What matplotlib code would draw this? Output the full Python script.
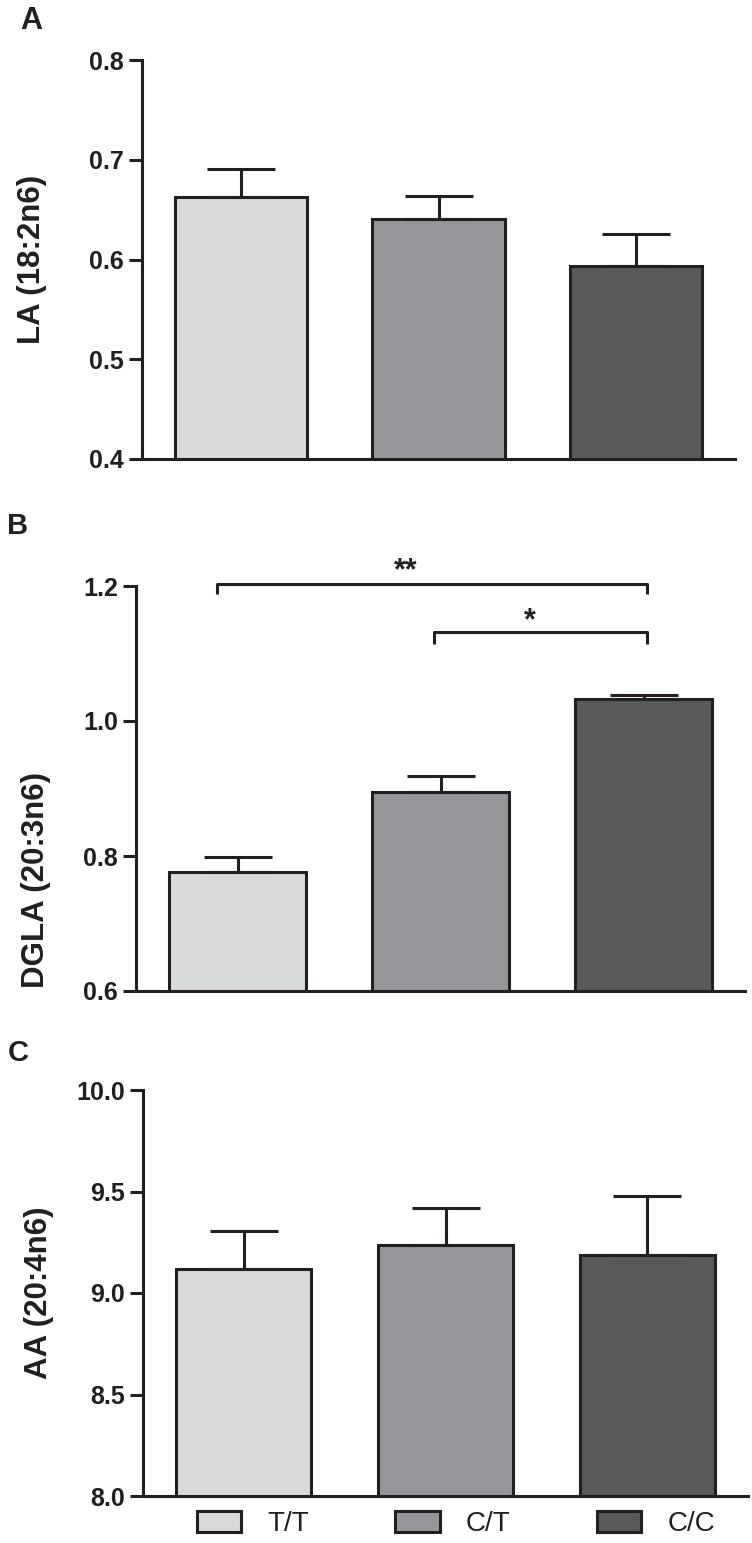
import numpy as np
import matplotlib
matplotlib.use("Agg")
import matplotlib.pyplot as plt

plt.rcParams['font.family'] = ['Liberation Sans', 'DejaVu Sans']

# 数据
genotypes = ['T/T', 'C/T', 'C/C']
bar_colors = ['#d8d9da', '#959699', '#58595b']

la_mean = [0.663, 0.641, 0.593]
la_sem = [0.028, 0.023, 0.033]

dgla_mean = [0.777, 0.895, 1.032]
dgla_sem = [0.021, 0.023, 0.006]

aa_mean = [9.120, 9.237, 9.187]
aa_sem = [0.187, 0.183, 0.293]

ink = '#231f20'
lw = 2.2
W, H = 752, 1543

fig = plt.figure(figsize=(W / 100, H / 100), dpi=100)


def make_axes(left, right, top, bottom):
    # 像素位置转换为figure坐标
    return fig.add_axes([left / W, 1 - bottom / H, (right - left) / W, (bottom - top) / H])


def draw_panel(ax, means, sems, ylim, step, ylabel):
    x = np.arange(len(means))
    bars = ax.bar(x, means, width=0.67, color=bar_colors, edgecolor=ink, linewidth=lw,
                  yerr=[np.zeros(len(sems)), sems], capsize=24.5,
                  error_kw=dict(elinewidth=lw, capthick=lw, ecolor=ink), zorder=2)
    ax.set_xlim(-0.5, 2.5)
    ax.set_ylim(*ylim)
    ax.set_yticks(np.arange(ylim[0], ylim[1] + step / 2, step))
    ax.yaxis.set_major_formatter(matplotlib.ticker.FormatStrFormatter('%.1f'))
    ax.set_xticks([])
    for s in ['top', 'right']:
        ax.spines[s].set_visible(False)
    for s in ['left', 'bottom']:
        ax.spines[s].set_linewidth(lw)
        ax.spines[s].set_color(ink)
    ax.tick_params(axis='y', length=9.5, width=lw, color=ink, pad=3.5,
                   labelsize=18)
    for t in ax.get_yticklabels():
        t.set_fontweight('bold')
        t.set_color(ink)
    ax.set_ylabel(ylabel, fontsize=22.5, fontweight='bold', color=ink)
    return bars


# A
axA = make_axes(142, 735, 60, 459)
draw_panel(axA, la_mean, la_sem, (0.4, 0.8), 0.1, 'LA (18:2n6)')
axA.yaxis.set_label_coords((47 - 142) / (735 - 142), 0.5)

# B
axB = make_axes(136, 745, 586, 991)
draw_panel(axB, dgla_mean, dgla_sem, (0.6, 1.2), 0.2, 'DGLA (20:3n6)')
axB.yaxis.set_label_coords((51 - 136) / (745 - 136), (991 - 880) / (991 - 586))
# 显著性标记
axB.plot([-0.1, -0.1, 2.015, 2.015], [1.188, 1.203, 1.203, 1.188], color=ink, lw=lw,
         clip_on=False, solid_capstyle='butt')
axB.plot([0.97, 0.97, 2.015, 2.015], [1.114, 1.132, 1.132, 1.114], color=ink, lw=lw,
         clip_on=False, solid_capstyle='butt')
axB.text(0.83, 1.222, '**', ha='center', va='center', fontsize=22, fontweight='bold', color=ink)
axB.text(1.44, 1.148, '*', ha='center', va='center', fontsize=22, fontweight='bold', color=ink)

# C
axC = make_axes(143, 748, 1090, 1496)
barsC = draw_panel(axC, aa_mean, aa_sem, (8.0, 10.0), 0.5, 'AA (20:4n6)')
axC.yaxis.set_label_coords((54 - 143) / (748 - 143), 0.5)

# 面板字母
fig.text(20 / W, 1 - 21 / H, 'A', fontsize=22, fontweight='bold', color=ink, va='center')
fig.text(7 / W, 1 - 526 / H, 'B', fontsize=21, fontweight='bold', color=ink, va='center')
fig.text(8 / W, 1 - 1053 / H, 'C', fontsize=21, fontweight='bold', color=ink, va='center')

# 图例
fig.legend(barsC.patches, genotypes, loc='center', bbox_to_anchor=(456 / W, 1 - 1524 / H),
           ncol=3, frameon=False, fontsize=20, handlelength=1.6, handleheight=0.76,
           handletextpad=0.95, columnspacing=3.1, labelcolor=ink)

fig.savefig('out.png', dpi=100)
